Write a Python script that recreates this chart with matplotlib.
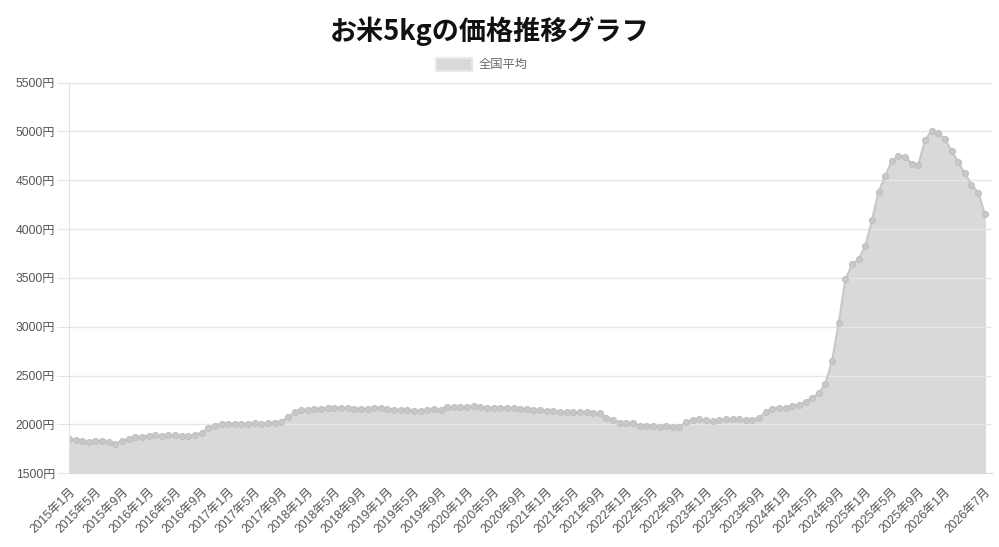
import matplotlib
matplotlib.use('Agg')
from matplotlib import pyplot as plt
import numpy as np

plt.rcParams['font.family'] = ['Noto Sans CJK JP', 'DejaVu Sans']
tick_font = ['Liberation Sans', 'Noto Sans CJK JP']

# 月ごとの全国平均価格 (2015年1月〜2026年7月)
years = list(range(2015, 2027))
labels = [f'{y}年{m}月' for y in years for m in range(1, 13)][:139]

prices = [
    # 2015
    1853, 1843, 1832, 1822, 1832, 1832, 1815, 1798, 1832, 1853, 1873, 1873,
    # 2016
    1884, 1890, 1884, 1890, 1890, 1884, 1884, 1890, 1911, 1966, 1986, 2006,
    # 2017
    2006, 2006, 2006, 2006, 2017, 2006, 2017, 2017, 2027, 2078, 2122, 2150,
    # 2018
    2150, 2160, 2160, 2170, 2170, 2170, 2170, 2160, 2160, 2160, 2170, 2170,
    # 2019
    2160, 2150, 2150, 2150, 2140, 2140, 2150, 2160, 2150, 2181, 2181, 2181,
    # 2020
    2181, 2191, 2181, 2170, 2170, 2170, 2170, 2170, 2160, 2160, 2150, 2150,
    # 2021
    2140, 2140, 2129, 2122, 2122, 2122, 2122, 2112, 2112, 2068, 2047, 2017,
    # 2022
    2017, 2017, 1986, 1986, 1986, 1976, 1986, 1976, 1976, 2027, 2044, 2051,
    # 2023
    2040, 2030, 2040, 2050, 2055, 2050, 2047, 2047, 2068, 2126, 2160, 2170,
    # 2024
    2170, 2191, 2201, 2228, 2273, 2320, 2416, 2651, 3040, 3484, 3637, 3689,
    # 2025
    3828, 4088, 4381, 4545, 4698, 4750, 4739, 4671, 4661, 4910, 5005, 4985,
    # 2026
    4923, 4800, 4688, 4569, 4456, 4374, 4156,
]

tick_idx = list(range(0, 133, 4)) + [138]
y_ticks = list(range(1500, 5501, 500))

x = np.arange(len(prices))

fig = plt.figure(figsize=(9.99, 5.47), dpi=100)
ax = fig.add_axes([0.069, 0.135, 0.924, 0.714])

ax.fill_between(x, prices, 1500, color='#d9d9d9', zorder=1, label='全国平均')
ax.plot(x, prices, color='#c8c8c8', lw=1.5, zorder=2,
        marker='o', markersize=4.3, markerfacecolor='#c8c8c8', markeredgecolor='#c0c0c0',
        markeredgewidth=0.8)

ax.set_xlim(0, 139.1)
ax.set_ylim(1500, 5500)
ax.set_yticks(y_ticks)
ax.set_yticklabels([f'{v}円' for v in y_ticks], fontsize=8.7, color='#555555',
                   family=tick_font)
ax.set_xticks(tick_idx)
ax.set_xticklabels([labels[i] for i in tick_idx], rotation=45, ha='right', va='top',
                   rotation_mode='anchor', fontsize=8.7, color='#555555', family=tick_font)

ax.grid(axis='y', color='#e6e6e6', lw=1, zorder=0)
ax.tick_params(axis='y', length=9, color='#e6e6e6', pad=1)
ax.tick_params(axis='x', length=0, pad=9)
for s in ['top', 'right']:
    ax.spines[s].set_visible(False)
ax.spines['left'].set_color('#e0e0e0')
ax.spines['bottom'].set_color('#d9d9d9')

fig.text(0.49, 0.943, 'お米5kgの価格推移グラフ', ha='center', va='center',
         fontsize=19.5, fontweight='bold', color='#111111')

leg = fig.legend(loc='center', bbox_to_anchor=(0.482, 0.882), frameon=False,
                 fontsize=8.8, handlelength=3.0, handleheight=1.3, handletextpad=0.5)
for t in leg.get_texts():
    t.set_color('#666666')
leg.legend_handles[0].set_edgecolor('#e8e8e8')
leg.legend_handles[0].set_linewidth(1.5)

fig.savefig('out.png', dpi=100)
